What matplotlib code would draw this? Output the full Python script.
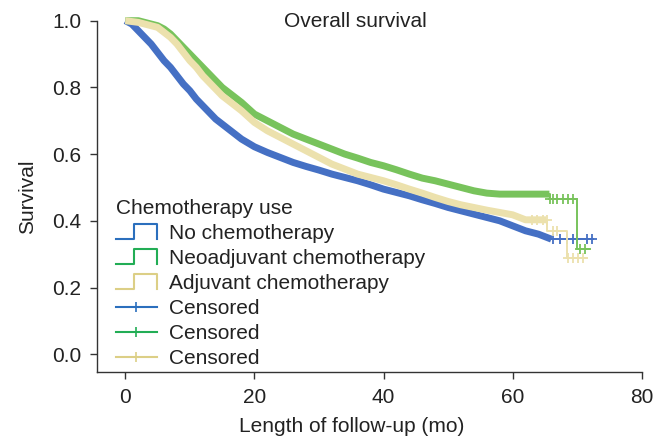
import matplotlib
matplotlib.use("Agg")
import matplotlib.pyplot as plt
from matplotlib.lines import Line2D
from matplotlib.legend_handler import HandlerBase

plt.rcParams['font.family'] = ['Liberation Sans', 'DejaVu Sans']

# Kaplan-Meier curves (months, survival)
t_none = [0, 1, 2, 3, 4, 5, 6, 7, 8, 9, 10, 11, 12, 13, 14, 15, 16, 18, 20, 22, 24, 26, 28,
          30, 32, 34, 36, 38, 40, 42, 44, 46, 48, 50, 52, 54, 56, 58, 60, 62, 64, 66, 72.5]
s_none = [1.0, 0.99, 0.97, 0.95, 0.93, 0.905, 0.88, 0.86, 0.835, 0.81, 0.79, 0.765, 0.745,
          0.725, 0.705, 0.69, 0.675, 0.645, 0.622, 0.605, 0.59, 0.575, 0.563, 0.552, 0.54,
          0.53, 0.52, 0.508, 0.495, 0.485, 0.475, 0.463, 0.452, 0.44, 0.43, 0.42, 0.41, 0.4,
          0.385, 0.37, 0.36, 0.345, 0.345]

t_neo = [0, 2, 4, 5, 6, 7, 8, 9, 10, 11, 12, 13, 14, 15, 16, 17, 18, 20, 22, 24, 26, 28, 30,
         32, 34, 36, 38, 40, 42, 44, 46, 48, 50, 52, 54, 56, 58, 60, 62, 64, 65.7, 65.8,
         70.0, 72]
s_neo = [1.0, 1.0, 0.99, 0.985, 0.975, 0.96, 0.94, 0.92, 0.9, 0.88, 0.86, 0.84, 0.82, 0.8,
         0.785, 0.77, 0.755, 0.72, 0.7, 0.68, 0.66, 0.645, 0.63, 0.615, 0.6, 0.588, 0.575,
         0.565, 0.553, 0.54, 0.528, 0.52, 0.51, 0.5, 0.49, 0.483, 0.48, 0.48, 0.48, 0.48,
         0.48, 0.465, 0.316, 0.316]

t_adj = [0, 2, 4, 5, 6, 7, 8, 9, 10, 11, 12, 13, 14, 15, 16, 17, 18, 20, 22, 24, 26, 28, 30,
         32, 34, 36, 38, 40, 42, 44, 46, 48, 50, 52, 54, 56, 58, 60, 62, 65.2, 65.3, 68.4,
         71.5]
s_adj = [1.0, 0.995, 0.985, 0.98, 0.965, 0.95, 0.93, 0.905, 0.88, 0.86, 0.835, 0.815, 0.795,
         0.775, 0.76, 0.745, 0.73, 0.695, 0.67, 0.65, 0.63, 0.61, 0.59, 0.57, 0.555, 0.54,
         0.53, 0.52, 0.508, 0.495, 0.483, 0.47, 0.458, 0.448, 0.44, 0.432, 0.425, 0.418,
         0.403, 0.403, 0.37, 0.289, 0.289]

# censor marks visible in the tails
c_none_t = [66.3, 67.3, 68.4, 69.4, 70.0, 71.5, 72.3]
c_none_s = [0.345] * 7
c_neo_t = [65.8, 66.3, 66.9, 67.8, 68.6, 69.4, 70.4, 71.2]
c_neo_s = [0.465] * 6 + [0.316] * 2
c_adj_t = [63.0, 63.8, 64.7, 65.3, 66.3, 66.9, 68.6, 69.4, 70.1, 70.9]
c_adj_s = [0.403] * 4 + [0.37] * 2 + [0.289] * 4

labels = ['No chemotherapy', 'Neoadjuvant chemotherapy', 'Adjuvant chemotherapy']
colors = ['#4570c4', '#78c35c', '#ece1ad']
leg_colors = ['#2b6fbd', '#22ad55', '#dccf86']


class StepHandler(HandlerBase):
    def create_artists(self, legend, orig_handle, xdescent, ydescent, width, height,
                       fontsize, trans):
        x0, y0 = -xdescent, -ydescent
        xs = [x0, x0 + 0.45 * width, x0 + 0.45 * width, x0 + width, x0 + width]
        ys = [y0, y0, y0 + height, y0 + height, y0]
        ln = Line2D(xs, ys, color=orig_handle.get_color(), lw=1.5, transform=trans)
        return [ln]


fig = plt.figure(figsize=(6.67, 4.44), dpi=100)
ax = fig.add_axes([0.1459, 0.1615, 0.8162, 0.7919])

curves = [(t_none, s_none, c_none_t, c_none_s, 66),
          (t_neo, s_neo, c_neo_t, c_neo_s, 65.7),
          (t_adj, s_adj, c_adj_t, c_adj_s, 65.2)]

for (t, s, ct, cs, cut), col in zip(curves, colors):
    k = len([v for v in t if v <= cut])
    # dense part: many censor ticks make a thick smooth band
    ax.plot(t[:k], s[:k], color=col, lw=5, clip_on=False, solid_capstyle='butt')
    # sparse tail as thin steps
    ax.step(t[k - 1:], s[k - 1:], where='post', color=col, lw=1.4, clip_on=False)
    ax.plot(ct, cs, ls='none', marker='+', ms=7, mew=1.3, color=col, clip_on=False)

ax.set_xlim(-4.34, 80)
ax.set_ylim(-0.0542, 1.0)
ax.set_xticks([0, 20, 40, 60, 80])
ax.set_yticks([0.0, 0.2, 0.4, 0.6, 0.8, 1.0])
ax.set_yticklabels(['0.0', '0.2', '0.4', '0.6', '0.8', '1.0'])
for side in ['top', 'right']:
    ax.spines[side].set_visible(False)
for side in ['left', 'bottom']:
    ax.spines[side].set_color('#333333')
    ax.spines[side].set_linewidth(1.0)
ax.tick_params(direction='out', length=4.8, width=1.0, color='#333333',
               labelsize=15, labelcolor='#222222', pad=6.5)

ax.set_xlabel('Length of follow-up (mo)', fontsize=15, color='#222222')
ax.xaxis.set_label_coords(0.468, -0.127)
ax.set_ylabel('Survival', fontsize=15, color='#222222', labelpad=11)
ax.text(35.6, 0.997, 'Overall survival', fontsize=15, color='#222222',
        ha='center', va='center')

step_handles = [Line2D([], [], color=c) for c in leg_colors]
cens_handles = [Line2D([], [], color=c, lw=1.5, marker='|', ms=7, mew=1.2)
                for c in leg_colors]
handler_map = {h: StepHandler() for h in step_handles}
leg = ax.legend(step_handles + cens_handles, labels + ['Censored'] * 3,
                handler_map=handler_map, title='Chemotherapy use',
                loc='upper left', bbox_to_anchor=(0.034, 0.493), frameon=False,
                fontsize=15, title_fontsize=15, numpoints=1,
                handlelength=1.97, handletextpad=0.58, labelspacing=0.29,
                borderaxespad=0, borderpad=0, alignment='left')
for txt in leg.get_texts():
    txt.set_color('#222222')
leg.get_title().set_color('#222222')

fig.savefig('out.png', dpi=100)
